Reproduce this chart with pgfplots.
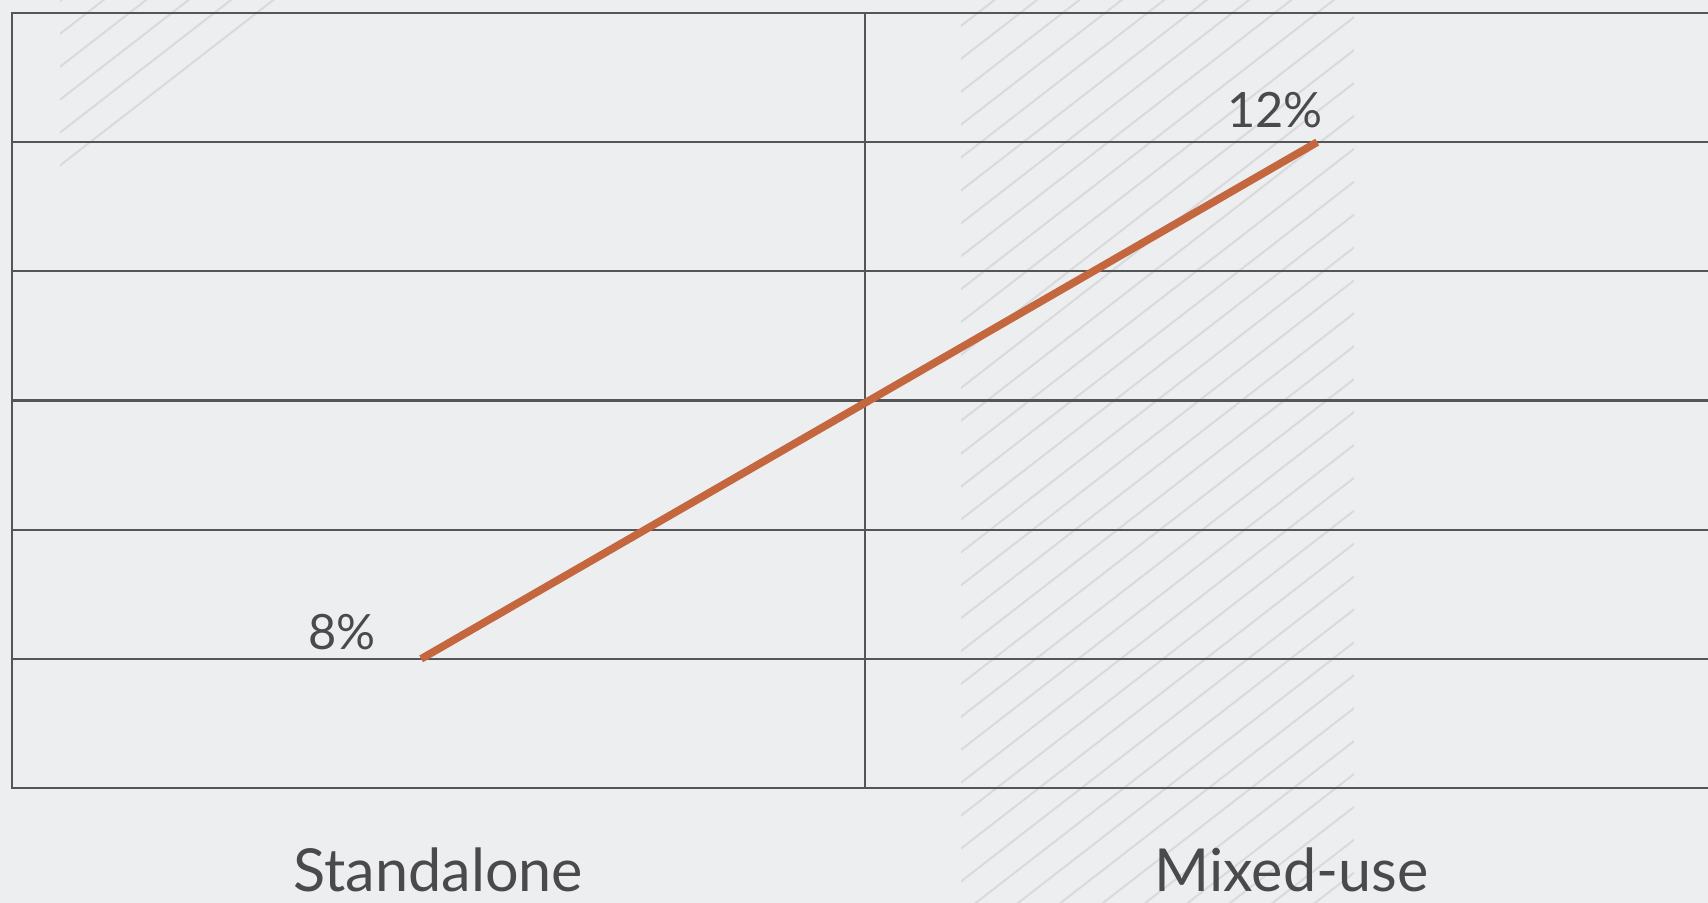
\documentclass[border=0pt]{standalone}
\usepackage{fontspec}
\setmainfont{Lato}
\usepackage{pgfplots}
\pgfplotsset{compat=1.18}
\usetikzlibrary{patterns.meta}

\definecolor{bg}{HTML}{EDEEF0}
\definecolor{gridc}{HTML}{555557}
\definecolor{hatch}{HTML}{D9DADC}
\definecolor{linec}{HTML}{C4673F}
\definecolor{txt}{HTML}{4A4A4D}

\begin{document}
\begin{tikzpicture}
  % picture frame: 1708 x 903 px at 0.3pt per px
  \path[use as bounding box] (0,0) rectangle (512.4pt,270.9pt);
  \clip (0,0) rectangle (512.4pt,270.9pt);
  \fill[bg] (0,0) rectangle (512.4pt,270.9pt);

  % hatched regions
  \fill[pattern={Lines[angle=37.8,distance=7.8pt,line width=0.6pt]},pattern color=hatch]
    (18pt,270.9pt) -- (18pt,213pt) -- (93pt,270.9pt) -- cycle;
  \fill[pattern={Lines[angle=37.8,distance=7.8pt,line width=0.6pt]},pattern color=hatch]
    (288.3pt,0pt) rectangle (406.2pt,270.9pt);

  \begin{axis}[
      at={(3.48pt,34.5pt)}, anchor=south west,
      scale only axis,
      width=512pt, height=232.5pt,
      xmin=0, xmax=2,
      ymin=7, ymax=13,
      ytick={7,8,...,13},
      yticklabels={},
      ymajorgrids,
      xtick={0.5,1.5},
      xticklabels={Standalone,Mixed-use},
      extra x ticks={1},
      extra x tick labels={},
      extra x tick style={grid=major},
      major tick length=0pt,
      axis line style={gridc, line width=0.65pt},
      grid style={gridc, line width=0.65pt},
      xticklabel style={anchor=base, yshift=-31.2pt, inner sep=0pt,
        font=\fontsize{17.8}{21}\selectfont, text=txt},
      clip=false,
    ]
    \addplot[linec, line width=2.3pt, no marks] coordinates {(0.48,8) (1.53,12)};
    \node[anchor=base east, inner sep=0pt, xshift=-13.4pt, yshift=2.7pt,
      font=\fontsize{14.6}{17}\selectfont, text=txt] at (axis cs:0.48,8) {8\%};
    \node[anchor=base east, inner sep=0pt, xshift=1.9pt, yshift=4.5pt,
      font=\fontsize{14.6}{17}\selectfont, text=txt] at (axis cs:1.53,12) {12\%};
  \end{axis}
\end{tikzpicture}
\end{document}
